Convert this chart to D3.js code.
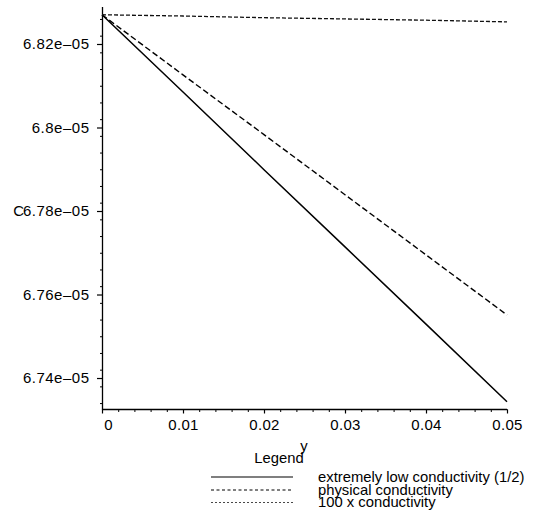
<!DOCTYPE html>
<html>
<head>
<meta charset="utf-8">
<script src="https://cdn.jsdelivr.net/npm/d3@7/dist/d3.min.js"></script>
<style>
  html, body { margin: 0; padding: 0; background: #fff; }
  svg { display: block; font-family: "Liberation Sans", Arial, Helvetica, sans-serif; }
</style>
</head>
<body>
<svg id="chart" width="536" height="525"></svg>
<script>
// Position along the slab
const yPos = [0, 0.01, 0.02, 0.03, 0.04, 0.05];

// Concentration C for each conductivity case
const lowCond      = [6.8270e-5, 6.8085e-5, 6.7899e-5, 6.7714e-5, 6.7529e-5, 6.7343e-5];
const physicalCond = [6.8270e-5, 6.8126e-5, 6.7983e-5, 6.7839e-5, 6.7695e-5, 6.7551e-5];
const highCond     = [6.8270e-5, 6.8267e-5, 6.8263e-5, 6.8260e-5, 6.8257e-5, 6.8253e-5];

const seriesNames = ["extremely low conductivity (1/2)", "physical conductivity", "100 x conductivity"];

const xTicks = [0, 0.01, 0.02, 0.03, 0.04, 0.05];
const xTickLabels = ["0", "0.01", "0.02", "0.03", "0.04", "0.05"];
const yTicks = [6.74e-5, 6.76e-5, 6.78e-5, 6.80e-5, 6.82e-5];
const yTickLabels = ["6.74e\u201305", "6.76e\u201305", "6.78e\u201305", "6.8e\u201305", "6.82e\u201305"];

const svg = d3.select("#chart");
const TICK_FONT = 15;
const FONT = 14.8;

const x = d3.scaleLinear().domain([0, 0.05]).range([102, 507]);
const y = d3.scaleLinear().domain([6.73234e-5, 6.82886e-5]).range([410, 7]);

const styles = [
  { width: 1.5, dash: null, color: "#000" },
  { width: 1.4, dash: "6,3", color: "#000" },
  { width: 1.3, dash: "4,2", color: "#111" }
];
const legendStyles = [
  { width: 1.2, dash: null, color: "#000" },
  { width: 1.2, dash: "3,2.5", color: "#000" },
  { width: 0.9, dash: "2,2", color: "#333" }
];

// Axes: minor ticks first, then labelled major ticks
const xAxis = d3.axisBottom(x).tickValues(d3.range(0, 0.0501, 0.002)).tickSize(2.5).tickFormat("");
const gx = svg.append("g").attr("transform", "translate(0,409.5)").call(xAxis);
gx.select(".domain").attr("stroke-width", 1.3).attr("d", `M${x(0)},0H${x(0.05)}`);
gx.selectAll(".tick line").attr("stroke-width", 1);

const gxMajor = svg.append("g").attr("transform", "translate(0,409.5)")
  .call(d3.axisBottom(x).tickValues(xTicks).tickSize(4).tickFormat((d, i) => xTickLabels[i]));
gxMajor.select(".domain").remove();
gxMajor.selectAll(".tick line").attr("stroke-width", 1.2);
gxMajor.selectAll(".tick text")
  .attr("font-size", TICK_FONT).attr("font-family", "Liberation Sans, Arial, sans-serif")
  .attr("letter-spacing", 0.3)
  .attr("fill", "#000").attr("y", 10)
  .attr("dx", (d, i) => i === 0 ? 6 : 0);

const yMinor = d3.range(6.734e-5, 6.8289e-5, 4e-8);
const gy = svg.append("g").attr("transform", "translate(102.5,0)")
  .call(d3.axisLeft(y).tickValues(yMinor).tickSize(2.5).tickFormat(""));
gy.select(".domain").attr("stroke-width", 1.3).attr("d", `M0,${y.range()[1]}V${y.range()[0]}`);
gy.selectAll(".tick line").attr("stroke-width", 1);

const gyMajor = svg.append("g").attr("transform", "translate(102.5,0)")
  .call(d3.axisLeft(y).tickValues(yTicks).tickSize(5.5).tickFormat((d, i) => yTickLabels[i]));
gyMajor.select(".domain").remove();
gyMajor.selectAll(".tick line").attr("stroke-width", 1.2);
gyMajor.selectAll(".tick text")
  .attr("font-size", TICK_FONT).attr("font-family", "Liberation Sans, Arial, sans-serif")
  .attr("letter-spacing", 0.5)
  .attr("fill", "#000").attr("x", -13);

// Axis titles
svg.append("text").attr("x", 24).attr("y", y(6.78e-5)).attr("dy", "0.32em")
  .attr("text-anchor", "end").attr("font-size", TICK_FONT).text("C");
svg.append("text").attr("x", 304).attr("y", 451).attr("text-anchor", "middle")
  .attr("font-size", FONT).text("y");

// Curves
const series = [lowCond, physicalCond, highCond];
const line = d3.line().x(d => x(d[0])).y(d => y(d[1]));
series.forEach((vals, i) => {
  svg.append("path")
    .datum(yPos.map((p, j) => [p, vals[j]]))
    .attr("fill", "none")
    .attr("stroke", styles[i].color)
    .attr("stroke-width", styles[i].width)
    .attr("stroke-dasharray", styles[i].dash)
    .attr("d", line);
});

// Legend
svg.append("text").attr("x", 279).attr("y", 463).attr("text-anchor", "middle")
  .attr("font-size", FONT).text("Legend");
const rowY = [477, 490, 502.5];
seriesNames.forEach((name, i) => {
  svg.append("line")
    .attr("x1", 211).attr("x2", 293).attr("y1", rowY[i]).attr("y2", rowY[i])
    .attr("stroke", legendStyles[i].color)
    .attr("stroke-width", legendStyles[i].width)
    .attr("stroke-dasharray", legendStyles[i].dash);
  svg.append("text").attr("x", 318).attr("y", rowY[i] + 4.5)
    .attr("font-size", FONT).text(name);
});
</script>
</body>
</html>
